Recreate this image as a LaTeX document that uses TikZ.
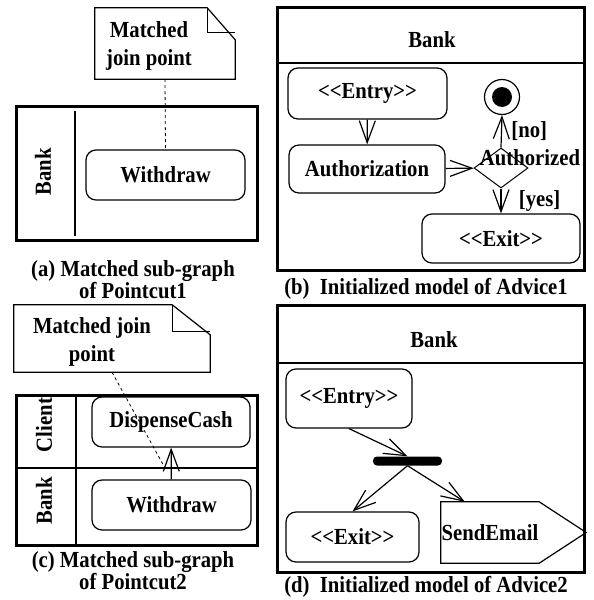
\documentclass[tikz,border=0pt]{standalone}
\usepackage{fontspec}
\setmainfont{Liberation Serif}[FakeStretch=0.9,Ligatures=TeXOff]
\usetikzlibrary{arrows.meta,shapes.geometric}

\begin{document}
\begin{tikzpicture}[x=1pt,y=-1pt,
    font=\fontsize{23}{21}\selectfont\bfseries,
    >={Straight Barb[length=22pt,width=16pt]},
    frame/.style={line width=3pt},
    lane/.style={line width=1.2pt},
    action/.style={draw,line width=1.2pt,rounded corners=10pt,inner sep=0pt},
    flow/.style={->,line width=1.2pt},
    link/.style={dashed,line width=0.8pt},
    notebody/.style={minimum width=#1,inner sep=0pt},
    notetext/.style={align=center,inner sep=0pt,font=\fontsize{23}{28}\selectfont\bfseries},
    caption/.style={align=center,inner sep=0pt}]
    \useasboundingbox (0,0) rectangle (594,600);

    % (a)
    \node[notebody=140pt,minimum height=71pt] (noteA) at (165,43.5) {};
    \draw[lane] (noteA.south west) -- (noteA.north west) -- ([xshift=-28pt]noteA.north east)
        -- ([yshift=-32pt]noteA.north east) -- (noteA.south east) -- cycle;
    \draw[lane] ([xshift=-28pt]noteA.north east) |- ([yshift=-25pt]noteA.north east);
    \node[notetext] (noteAtxt) at (149,46) {Matched\\join point};
    \draw[frame] (16,106) rectangle (257,240);
    \draw[lane] (75,111) -- (75,236);
    \node[rotate=90] (laneA) at (43,172) {Bank};
    \node[action,minimum width=159pt,minimum height=50pt] (withdrawA) at (165.5,175) {Withdraw};
    \draw[link] (noteA.south) -- (withdrawA.north);
    \node[caption] (capA) at (133,280) {(a) Matched sub-graph\\of Pointcut1};

    % (b)
    \draw[frame] (277,7) rectangle (584,270);
    \draw[lane] (277,63) -- (584,63);
    \node (bankB) at (432,39.5) {Bank};
    \node[action,minimum width=159pt,minimum height=51pt] (entryB) at (367.5,93.5) {<<Entry>>};
    \node[action,minimum width=156pt,minimum height=48pt] (authB) at (367,169) {Authorization};
    \node[diamond,draw,line width=1pt,minimum width=54pt,minimum height=40pt,inner sep=0pt] (decision) at (501,168) {};
    \node (decisionLbl) at (530,158) {Authorized};
    \node[circle,draw,line width=1.2pt,minimum size=35pt,inner sep=0pt] (final) at (502,97) {};
    \fill (final.center) circle (10pt);
    \node[action,minimum width=158pt,minimum height=49pt] (exitB) at (501,238.5) {<<Exit>>};
    \draw[flow] (entryB) -- (authB);
    \draw[flow] (authB) -- (decision);
    \draw[flow] (decision.north) -- (final.south) node[midway,right=6pt] {[no]};
    \draw[flow] (decision.south) -- (exitB.north) node[midway,right=14pt] {[yes]};
    \node[caption] (capB) at (426,289) {(b)\ \ Initialized model of Advice1};

    % (c)
    \node[notebody=196pt,minimum height=67pt] (noteC) at (112,338.5) {};
    \draw[lane] (noteC.south west) -- (noteC.north west) -- ([xshift=-38pt]noteC.north east)
        -- ([yshift=-30pt]noteC.north east) -- (noteC.south east) -- cycle;
    \draw[lane] ([xshift=-38pt]noteC.north east) |- ([yshift=-27pt]noteC.north east);
    \node[notetext] (noteCtxt) at (92,342) {Matched join\\point};
    \draw[frame] (16,395) rectangle (257,545);
    \draw[lane] (76,395) -- (76,545);
    \draw[lane] (16,468) -- (257,468);
    \node[rotate=90] (laneClient) at (44,425) {Client};
    \node[rotate=90] (laneBank) at (44,501) {Bank};
    \node[action,minimum width=158pt,minimum height=50pt] (dispense) at (171,422) {DispenseCash};
    \node[action,minimum width=159pt,minimum height=50pt] (withdrawC) at (171.5,505) {Withdraw};
    \draw[flow] (withdrawC) -- (dispense);
    \coordinate (jp) at (165,468);
    \draw[link] (noteC.south) -- (jp);
    \node[caption] (capC) at (133,571) {(c) Matched sub-graph\\of Pointcut2};

    % (d)
    \draw[frame] (277,305) rectangle (584,572);
    \draw[lane] (277,363) -- (584,363);
    \node (bankD) at (434,339.5) {Bank};
    \node[action,minimum width=126pt,minimum height=59pt] (entryD) at (349,398.5) {<<Entry>>};
    \node[fill,rounded corners=4pt,minimum width=69pt,minimum height=9pt,inner sep=0pt] (fork) at (407.5,461) {};
    \node[action,minimum width=133pt,minimum height=50pt] (exitD) at (352.5,537) {<<Exit>>};
    \node[minimum width=98pt,minimum height=61pt,inner sep=0pt] (sendEmail) at (490,532.5) {SendEmail};
    \draw[lane] (sendEmail.north west) -- (sendEmail.north east) -- ([xshift=47pt]sendEmail.east)
        -- (sendEmail.south east) -- (sendEmail.south west) -- cycle;
    \draw[flow] (entryD.south) -- (fork.north);
    \draw[flow] (fork.south) -- (exitD.north);
    \draw[flow] (fork.south) -- ([xshift=24pt]sendEmail.north west);
    \node[caption] (capD) at (426,587) {(d)\ \ Initialized model of Advice2};
\end{tikzpicture}
\end{document}
